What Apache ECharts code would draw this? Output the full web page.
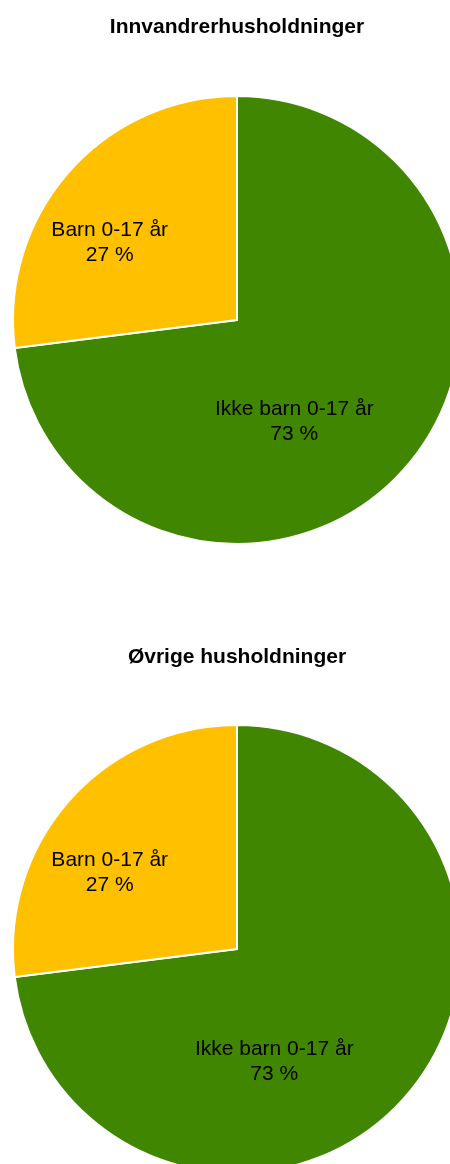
<!DOCTYPE html>
<html>
<head>
<meta charset="utf-8">
<script src="https://cdn.jsdelivr.net/npm/echarts@6/dist/echarts.min.js"></script>
<style>
html,body{margin:0;padding:0;background:#fff;}
#main{width:450px;height:1164px;}
</style>
</head>
<body>
<div id="main"></div>
<script>
//图表标题
var titles = ['Innvandrerhusholdninger', 'Øvrige husholdninger'];
//类别（从12点方向顺时针）
var categories = ['Ikke barn 0-17 år', 'Barn 0-17 år'];
//各图百分比
var valuesInnvandrer = [73, 27];
var valuesOvrige = [73, 27];
var colors = ['#408600', '#FFC000'];

var myChart = echarts.init(document.getElementById('main'));

var buildData = function(values){
	var arr = [];
	for(var i = 0; i < categories.length; i++){
		arr.push({name: categories[i], value: values[i], itemStyle: {color: colors[i]}});
	}
	return arr;
};

//标签偏移（相对于默认内部位置）
var labelShift1 = [[-29, 26], [-41, -1]];
var labelShift2 = [[-49, 37], [-41, 0]];

var makePie = function(center, values, shift){
	return {
		type: 'pie',
		center: center,
		radius: 224,
		startAngle: 90,
		clockwise: true,
		animation: false,
		silent: true,
		itemStyle: {borderColor: '#fff', borderWidth: 2},
		label: {
			show: true,
			position: 'inside',
			formatter: '{b}\n{c} %',
			color: '#000',
			fontSize: 21,
			lineHeight: 25,
			fontFamily: 'Liberation Sans, Arial, sans-serif',
			align: 'center'
		},
		labelLine: {show: false},
		labelLayout: function(p){
			return {dx: shift[p.dataIndex][0], dy: shift[p.dataIndex][1]};
		},
		data: buildData(values)
	};
};

var titleStyle = {fontSize: 21, fontWeight: 'bold', color: '#000', fontFamily: 'Liberation Sans, Arial, sans-serif'};

var option = {
	backgroundColor: '#fff',
	title: [
		{text: titles[0], left: 232, top: 12, textAlign: 'center', textStyle: titleStyle},
		{text: titles[1], left: 232, top: 642, textAlign: 'center', textStyle: titleStyle}
	],
	series: [
		makePie([237, 320], valuesInnvandrer, labelShift1),
		makePie([237, 949], valuesOvrige, labelShift2)
	]
};
myChart.setOption(option);
</script>
</body>
</html>
